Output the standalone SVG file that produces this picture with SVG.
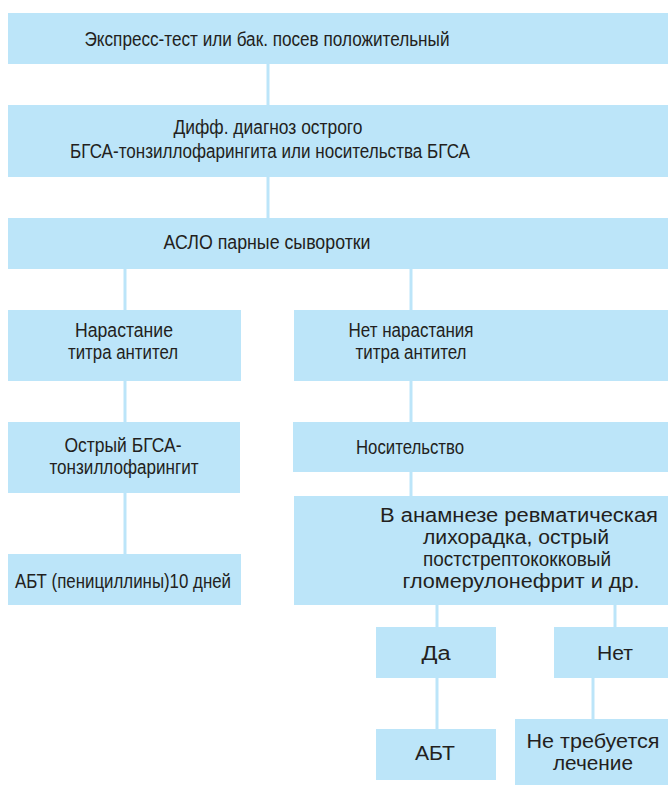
<svg xmlns="http://www.w3.org/2000/svg" width="668" height="785" viewBox="0 0 668 785">
<style>
.box{fill:#bce5f9;}
.conn{stroke:#bce5f9;stroke-width:3;fill:none;}
text{font-family:"Liberation Sans",Arial,sans-serif;font-size:20px;fill:#231f20;text-anchor:middle;}
</style>
<rect x="0" y="0" width="668" height="785" fill="#ffffff"/>
<g id="connectors">
<line class="conn" x1="268" y1="64" x2="268" y2="105"/>
<line class="conn" x1="268" y1="177" x2="268" y2="218"/>
<line class="conn" x1="125" y1="269" x2="125" y2="310"/>
<line class="conn" x1="411" y1="269" x2="411" y2="310"/>
<line class="conn" x1="125" y1="381" x2="125" y2="422"/>
<line class="conn" x1="411" y1="381" x2="411" y2="422"/>
<line class="conn" x1="125" y1="493" x2="125" y2="554"/>
<line class="conn" x1="411" y1="472" x2="411" y2="496"/>
<line class="conn" x1="437" y1="605" x2="437" y2="627"/>
<line class="conn" x1="615" y1="605" x2="615" y2="627"/>
<line class="conn" x1="437" y1="678" x2="437" y2="729"/>
<line class="conn" x1="593" y1="678" x2="593" y2="719"/>
</g>
<g id="n1">
<rect class="box" x="8" y="13" width="660" height="51"/>
<text x="267" y="46" textLength="365" lengthAdjust="spacingAndGlyphs">Экспресс-тест или бак. посев положительный</text>
</g>
<g id="n2">
<rect class="box" x="8" y="105" width="660" height="72"/>
<text x="268" y="134" textLength="189" lengthAdjust="spacingAndGlyphs">Дифф. диагноз острого</text>
<text x="270" y="158" textLength="400" lengthAdjust="spacingAndGlyphs">БГСА-тонзиллофарингита или носительства БГСА</text>
</g>
<g id="n3">
<rect class="box" x="8" y="218" width="660" height="51"/>
<text x="267" y="249" textLength="207" lengthAdjust="spacingAndGlyphs">АСЛО парные сыворотки</text>
</g>
<g id="n4l">
<rect class="box" x="8" y="310" width="233" height="71"/>
<text x="124" y="337" textLength="98" lengthAdjust="spacingAndGlyphs">Нарастание</text>
<text x="123" y="359" textLength="110" lengthAdjust="spacingAndGlyphs">титра антител</text>
</g>
<g id="n4r">
<rect class="box" x="294" y="310" width="374" height="71"/>
<text x="411" y="337" textLength="125" lengthAdjust="spacingAndGlyphs">Нет нарастания</text>
<text x="411" y="359" textLength="111" lengthAdjust="spacingAndGlyphs">титра антител</text>
</g>
<g id="n5l">
<rect class="box" x="8" y="422" width="232" height="71"/>
<text x="123" y="452" textLength="117" lengthAdjust="spacingAndGlyphs">Острый БГСА-</text>
<text x="124" y="474" textLength="149" lengthAdjust="spacingAndGlyphs">тонзиллофарингит</text>
</g>
<g id="n5r">
<rect class="box" x="293" y="422" width="375" height="50"/>
<text x="410" y="454" textLength="108" lengthAdjust="spacingAndGlyphs">Носительство</text>
</g>
<g id="n6l">
<rect class="box" x="8" y="554" width="233" height="51"/>
<text x="123" y="588" textLength="216" lengthAdjust="spacingAndGlyphs">АБТ (пенициллины)10 дней</text>
</g>
<g id="n6r">
<rect class="box" x="294" y="496" width="374" height="109"/>
<text x="519" y="522" textLength="278" lengthAdjust="spacingAndGlyphs">В анамнезе ревматическая</text>
<text x="516" y="544" textLength="186" lengthAdjust="spacingAndGlyphs">лихорадка, острый</text>
<text x="517" y="566" textLength="188" lengthAdjust="spacingAndGlyphs">постстрептококковый</text>
<text x="521" y="588" textLength="237" lengthAdjust="spacingAndGlyphs">гломерулонефрит и др.</text>
</g>
<g id="n7yes">
<rect class="box" x="376" y="627" width="120" height="51"/>
<text x="436" y="660" textLength="29" lengthAdjust="spacingAndGlyphs">Да</text>
</g>
<g id="n7no">
<rect class="box" x="554" y="627" width="114" height="51"/>
<text x="615" y="660" textLength="36" lengthAdjust="spacingAndGlyphs">Нет</text>
</g>
<g id="n8abt">
<rect class="box" x="376" y="729" width="120" height="51"/>
<text x="435" y="760" textLength="40" lengthAdjust="spacingAndGlyphs">АБТ</text>
</g>
<g id="n8none">
<rect class="box" x="515" y="719" width="153" height="66"/>
<text x="593" y="748" textLength="133" lengthAdjust="spacingAndGlyphs">Не требуется</text>
<text x="593" y="770" textLength="80" lengthAdjust="spacingAndGlyphs">лечение</text>
</g>
</svg>
